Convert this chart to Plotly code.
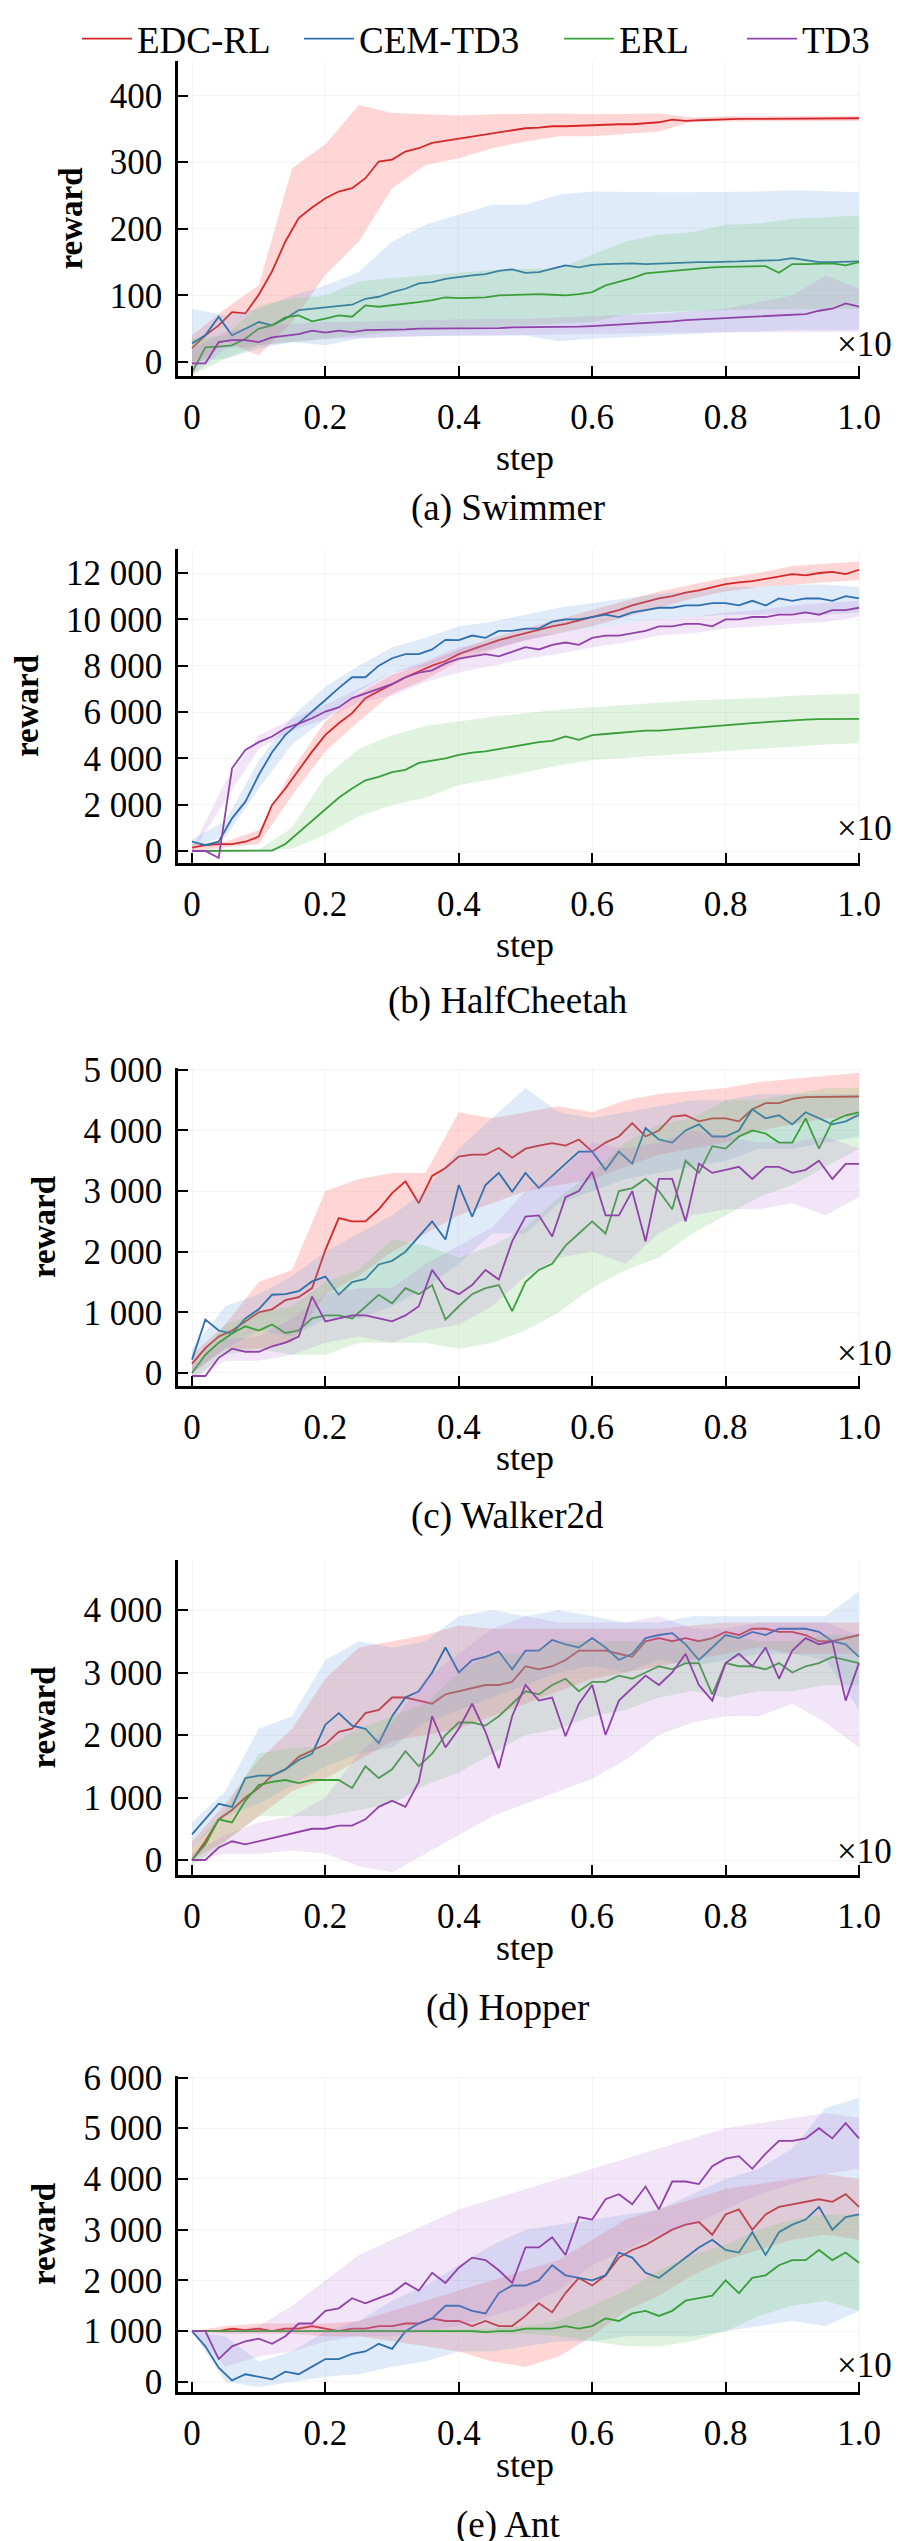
import plotly.graph_objects as go

# sampling steps (x 1e6)
STEP = [0.0, 0.02, 0.04, 0.06, 0.08, 0.1, 0.12, 0.14, 0.16, 0.18, 0.2, 0.22, 0.24, 0.26, 0.28,
        0.3, 0.32, 0.34, 0.36, 0.38, 0.4, 0.42, 0.44, 0.46, 0.48, 0.5, 0.52, 0.54, 0.56, 0.58,
        0.6, 0.62, 0.64, 0.66, 0.68, 0.7, 0.72, 0.74, 0.76, 0.78, 0.8, 0.82, 0.84, 0.86, 0.88,
        0.9, 0.92, 0.94, 0.96, 0.98, 1.0]
BAND_STEP = [0.0, 0.05, 0.1, 0.15, 0.2, 0.25, 0.3, 0.35, 0.4, 0.45, 0.5, 0.55, 0.6, 0.65, 0.7,
             0.75, 0.8, 0.85, 0.9, 0.95, 1.0]

ALGOS = ["EDC-RL", "CEM-TD3", "ERL", "TD3"]
LINE_COLORS = ["#d62728", "#2f6fad", "#3a9e3a", "#9042a8"]
FILL_COLORS = ["rgba(255,120,120,0.30)", "rgba(110,165,225,0.22)",
               "rgba(110,200,110,0.22)", "rgba(185,125,215,0.20)"]

# ---- (a) Swimmer ----
SW_EDC = [21, 40, 55, 75, 73, 101, 136, 181, 216, 232, 246, 256, 261, 276, 301, 304, 316, 321, 329, 332,
          335, 339, 342, 345, 347, 351, 352, 354, 354, 355, 355, 356, 357, 357, 359, 360, 364, 362, 363, 364,
          364, 365, 365, 365, 365, 365, 366, 366, 366, 366, 366]
SW_CEM = [28, 40, 68, 40, 50, 60, 55, 65, 78, 80, 82, 85, 86, 95, 98, 105, 110, 118, 120, 125,
          128, 130, 132, 137, 139, 134, 135, 140, 145, 142, 146, 147, 148, 148, 147, 148, 149, 149, 150, 150,
          150, 151, 152, 152, 153, 156, 153, 150, 150, 151, 151]
SW_ERL = [-16, 22, 23, 25, 35, 50, 55, 67, 70, 61, 65, 70, 68, 85, 83, 85, 88, 90, 93, 97,
          96, 96, 97, 100, 101, 102, 102, 101, 100, 102, 105, 115, 120, 126, 133, 135, 137, 139, 140, 142,
          143, 143, 144, 144, 134, 147, 147, 148, 148, 145, 150]
SW_TD3 = [-2, -2, 30, 33, 33, 30, 37, 40, 42, 47, 44, 47, 45, 48, 48, 49, 49, 50, 50, 50,
          50, 51, 51, 51, 52, 52, 52, 53, 53, 53, 54, 55, 56, 58, 59, 60, 61, 63, 64, 65,
          66, 67, 68, 69, 70, 71, 72, 77, 80, 88, 83]
SW_EDC_HI = [40, 80, 115, 291, 327, 386, 374, 372, 370, 372, 373, 373, 372, 372, 373, 367, 369, 369, 369, 369, 369]
SW_EDC_LO = [-10, 30, 10, 60, 131, 181, 261, 296, 306, 321, 331, 339, 339, 342, 346, 361, 361, 362, 362, 362, 362]
SW_CEM_HI = [80, 70, 80, 100, 115, 135, 181, 206, 221, 236, 236, 251, 256, 255, 255, 255, 255, 256, 258, 257, 255]
SW_CEM_LO = [0, 5, 20, 30, 25, 35, 38, 39, 40, 40, 40, 31, 35, 38, 40, 42, 45, 46, 48, 48, 48]
SW_ERL_HI = [35, 40, 85, 95, 100, 121, 126, 130, 135, 138, 140, 140, 161, 181, 191, 195, 206, 208, 215, 218, 220]
SW_ERL_LO = [-20, 5, 25, 30, 35, 40, 45, 48, 50, 53, 55, 58, 60, 71, 75, 77, 78, 79, 80, 80, 80]
SW_TD3_HI = [20, 45, 55, 58, 60, 61, 62, 64, 65, 65, 65, 67, 70, 71, 72, 76, 80, 90, 100, 130, 110]
SW_TD3_LO = [-20, 20, 25, 30, 35, 37, 38, 39, 40, 40, 40, 41, 42, 43, 44, 45, 45, 45, 45, 45, 45]

# ---- (b) HalfCheetah ----
HC_EDC = [150, 250, 300, 300, 400, 620, 1990, 2700, 3500, 4290, 5010, 5515, 5950, 6600, 6900, 7200, 7500,
          7750, 8000, 8200, 8500, 8700, 8900, 9100, 9250, 9400, 9550, 9700, 9800, 9950, 10080, 10250, 10400,
          10600, 10750, 10900, 11000, 11150, 11250, 11400, 11520, 11600, 11650, 11750, 11850, 11950, 11900,
          12000, 12050, 11950, 12140]
HC_CEM = [400, 250, 400, 1410, 2130, 3280, 4260, 5010, 5515, 6000, 6520, 7030, 7500, 7500, 8000, 8320, 8500,
          8500, 8700, 9115, 9100, 9300, 9200, 9500, 9500, 9600, 9600, 9900, 10000, 10000, 10100, 10200, 10100,
          10300, 10400, 10500, 10500, 10600, 10600, 10700, 10700, 10600, 10800, 10600, 10900, 10800, 10900,
          10900, 10800, 11000, 10900]
HC_ERL = [0, 0, 0, 0, 0, 10, 20, 300, 800, 1300, 1800, 2300, 2700, 3050, 3200, 3400, 3500, 3800, 3900,
          4000, 4150, 4250, 4300, 4400, 4500, 4600, 4700, 4750, 4950, 4800, 5000, 5050, 5100, 5150, 5200,
          5200, 5250, 5300, 5350, 5400, 5440, 5480, 5520, 5560, 5600, 5650, 5670, 5690, 5700, 5700, 5700]
HC_TD3 = [0, 0, -300, 3570, 4360, 4700, 4940, 5300, 5500, 5730, 6020, 6200, 6600, 6800, 7000, 7200, 7500,
          7700, 7800, 8100, 8300, 8400, 8500, 8400, 8600, 8800, 8700, 8900, 9000, 8900, 9200, 9300, 9300,
          9400, 9500, 9700, 9700, 9800, 9800, 9700, 10000, 10000, 10100, 10100, 10200, 10200, 10300, 10200,
          10400, 10400, 10500]
HC_EDC_HI = [300, 400, 900, 3500, 5600, 6800, 7600, 8100, 8700, 9200, 9600, 10000, 10400, 10800, 11200,
             11500, 11800, 12000, 12300, 12400, 12500]
HC_EDC_LO = [0, 150, 300, 2400, 4300, 5600, 6800, 7400, 8200, 8700, 9100, 9400, 9700, 10100, 10500,
             10900, 11200, 11400, 11500, 11600, 11700]
HC_CEM_HI = [500, 1300, 3900, 5800, 7100, 8000, 8800, 9200, 9700, 9900, 10200, 10500, 10700, 10900, 11100,
             11200, 11400, 11400, 11500, 11500, 11400]
HC_CEM_LO = [200, 600, 2700, 4600, 5700, 6900, 7700, 8000, 8500, 8700, 9100, 9400, 9600, 9800, 10000,
             10100, 10200, 10200, 10300, 10200, 10300]
HC_ERL_HI = [50, 50, 50, 1000, 3200, 4400, 5000, 5400, 5600, 5800, 5950, 6100, 6200, 6300, 6400, 6500,
             6550, 6600, 6700, 6750, 6800]
HC_ERL_LO = [-20, -20, -20, 100, 700, 1500, 1990, 2300, 2850, 3100, 3400, 3700, 3930, 4000, 4100, 4200,
             4300, 4400, 4500, 4600, 4650]
HC_TD3_HI = [100, 3000, 5000, 5700, 6300, 7000, 7700, 8200, 8800, 9000, 9300, 9400, 9600, 9800, 10000,
             10100, 10300, 10400, 10600, 10700, 10800]
HC_TD3_LO = [-100, 2200, 4400, 5200, 5700, 6400, 6700, 7300, 7700, 8000, 8300, 8500, 8800, 9000, 9300,
             9400, 9600, 9700, 9800, 9900, 10100]

# ---- (c) Walker2d ----
WK_EDC = [150, 410, 600, 700, 850, 1000, 1050, 1200, 1250, 1400, 2030, 2555, 2500, 2500, 2700, 2967, 3160,
          2800, 3250, 3380, 3570, 3600, 3600, 3710, 3550, 3700, 3750, 3790, 3750, 3850, 3650, 3800, 3900,
          4120, 3900, 4000, 4230, 4250, 4150, 4200, 4200, 4150, 4350, 4450, 4450, 4520, 4550, 4550, 4550,
          4550, 4560]
WK_CEM = [220, 880, 700, 650, 900, 1050, 1290, 1300, 1350, 1510, 1590, 1290, 1500, 1550, 1790, 1850, 2000,
          2250, 2500, 2200, 3100, 2580, 3100, 3300, 2990, 3300, 3050, 3250, 3450, 3650, 3650, 3350, 3650,
          3450, 4040, 3850, 3800, 4000, 4100, 3900, 3900, 4000, 4350, 4200, 4250, 4100, 4300, 4200, 4100,
          4150, 4260]
WK_ERL = [0, 300, 500, 650, 770, 700, 800, 660, 700, 900, 950, 950, 900, 1100, 1290, 1150, 1400, 1300,
          1450, 880, 1100, 1300, 1400, 1450, 1020, 1500, 1700, 1800, 2100, 2300, 2500, 2300, 3000, 3050,
          3200, 3000, 2700, 3500, 3300, 3740, 3700, 3900, 4000, 3950, 3800, 3800, 4200, 3700, 4150, 4250, 4300]
WK_TD3 = [-50, -50, 250, 400, 350, 350, 440, 500, 600, 1260, 850, 900, 950, 950, 900, 850, 950, 1100,
          1700, 1400, 1300, 1450, 1700, 1540, 2170, 2580, 2600, 2250, 2900, 3000, 3320, 2600, 2600, 3000,
          2170, 3200, 3200, 2500, 3450, 3300, 3350, 3400, 3200, 3400, 3400, 3300, 3350, 3500, 3200, 3450, 3450]
WK_EDC_HI = [300, 800, 1500, 1700, 3000, 3200, 3300, 3300, 4300, 4200, 4300, 4400, 4300, 4500, 4600,
             4650, 4700, 4800, 4850, 4900, 4950]
WK_EDC_LO = [0, 400, 400, 500, 1300, 1600, 2000, 2300, 2600, 2800, 3000, 3100, 3200, 3400, 3600, 3700,
             3800, 4000, 4100, 4200, 4200]
WK_CEM_HI = [400, 1100, 1300, 1600, 2000, 2300, 2600, 3000, 3700, 4200, 4700, 4300, 4200, 4300, 4400,
             4500, 4500, 4600, 4600, 4600, 4600]
WK_CEM_LO = [0, 400, 700, 600, 900, 900, 1100, 1400, 1800, 2300, 2300, 2800, 3000, 3200, 3300, 3400,
             3500, 3700, 3700, 3800, 3900]
WK_ERL_HI = [100, 800, 1000, 1100, 1500, 1700, 2200, 2100, 1900, 2100, 2400, 2900, 3300, 3800, 4100,
             4200, 4500, 4500, 4600, 4700, 4700]
WK_ERL_LO = [-100, 300, 400, 300, 300, 500, 500, 500, 400, 500, 700, 1000, 1400, 1700, 1900, 2300, 2600,
             2900, 3100, 3400, 3700]
WK_TD3_HI = [100, 550, 600, 900, 1300, 1400, 1400, 1800, 2100, 2400, 3000, 3300, 3800, 3700, 3800, 4000,
             3900, 3800, 3800, 3900, 3700]
WK_TD3_LO = [-100, 200, 200, 300, 500, 600, 500, 700, 800, 1100, 1600, 1900, 2000, 1800, 2300, 2600,
             2700, 2700, 2800, 2600, 2900]

# ---- (d) Hopper ----
HP_EDC = [0, 300, 650, 800, 1000, 1150, 1350, 1450, 1650, 1750, 1850, 2050, 2100, 2350, 2400, 2600, 2600,
          2550, 2500, 2650, 2700, 2750, 2800, 2800, 2850, 3100, 3050, 3100, 3200, 3350, 3350, 3350, 3300,
          3250, 3500, 3550, 3500, 3550, 3500, 3550, 3650, 3600, 3700, 3700, 3650, 3650, 3600, 3500, 3500,
          3550, 3600]
HP_CEM = [410, 650, 900, 850, 1310, 1350, 1350, 1450, 1600, 1700, 2165, 2350, 2150, 2100, 1870, 2300, 2600,
          2700, 3000, 3400, 3000, 3200, 3250, 3335, 3050, 3350, 3350, 3520, 3450, 3400, 3550, 3400, 3200,
          3300, 3550, 3600, 3630, 3450, 3200, 3400, 3600, 3550, 3650, 3600, 3700, 3700, 3700, 3650, 3500,
          3450, 3250]
HP_ERL = [0, 250, 650, 600, 950, 1200, 1250, 1280, 1230, 1280, 1280, 1280, 1150, 1500, 1310, 1450, 1740,
          1500, 1700, 2000, 2200, 2200, 2150, 2300, 2500, 2700, 2650, 2800, 2900, 2700, 2850, 2850, 2950,
          2900, 3000, 3100, 3050, 3150, 3150, 2650, 3150, 3100, 3100, 3050, 3150, 3000, 3100, 3150, 3250,
          3200, 3150]
HP_TD3 = [0, 0, 200, 300, 250, 300, 350, 400, 450, 500, 500, 550, 550, 650, 850, 950, 850, 1250, 2300,
          1800, 2100, 2500, 2050, 1470, 2300, 2800, 2550, 2600, 1980, 2500, 2800, 2000, 2550, 2750, 2950,
          2800, 3000, 3300, 2800, 2550, 3150, 3300, 3100, 3400, 2900, 3350, 3550, 3450, 3500, 2550, 3150]
HP_EDC_HI = [300, 900, 1600, 2100, 2900, 3400, 3500, 3600, 3750, 3700, 3700, 3700, 3700, 3700, 3700,
             3750, 3800, 3800, 3800, 3800, 3800]
HP_EDC_LO = [0, 300, 700, 1100, 1300, 1600, 1900, 2000, 2100, 2300, 2500, 2700, 2900, 3000, 3100, 3200,
             3300, 3400, 3300, 3300, 3300]
HP_CEM_HI = [600, 1100, 2100, 2300, 3200, 3500, 3400, 3500, 3900, 4000, 3900, 4000, 3900, 3800, 3800,
             3900, 3900, 3900, 3900, 3900, 4300]
HP_CEM_LO = [200, 700, 900, 1200, 1500, 1700, 1800, 2200, 2400, 2600, 2800, 3000, 3100, 3000, 3200, 3100,
             3200, 3300, 3300, 3200, 2400]
HP_ERL_HI = [200, 800, 1700, 1800, 1800, 2100, 2300, 2500, 3000, 3300, 3300, 3500, 3500, 3500, 3500,
             3500, 3600, 3500, 3500, 3600, 3600]
HP_ERL_LO = [-100, 300, 700, 700, 700, 800, 900, 1200, 1400, 1700, 2000, 2100, 2300, 2400, 2600, 2700,
             2600, 2700, 2700, 2800, 2800]
HP_TD3_HI = [100, 400, 600, 700, 1000, 1700, 2200, 2900, 3300, 3700, 3900, 3800, 3800, 3800, 3900, 3700,
             3700, 3800, 3800, 3800, 3600]
HP_TD3_LO = [0, 100, 100, 150, 100, -100, -200, 100, 400, 700, 900, 1100, 1300, 1600, 2000, 2200, 2300,
             2300, 2500, 2200, 1800]

# ---- (e) Ant ----
AN_EDC = [1000, 1000, 1000, 1050, 1020, 1050, 1000, 1050, 1050, 1100, 1050, 1000, 1050, 1050, 1100, 1100,
          1150, 1150, 1250, 1200, 1200, 1100, 1200, 1100, 1100, 1300, 1550, 1370, 1750, 2050, 1900, 2100,
          2450, 2600, 2700, 2850, 3000, 3100, 3150, 2900, 3300, 3400, 3000, 3300, 3450, 3500, 3550, 3600,
          3550, 3700, 3450]
AN_CEM = [1000, 700, 280, 30, 150, 100, 50, 200, 150, 300, 450, 450, 550, 600, 750, 650, 1000, 1150, 1250,
          1500, 1500, 1400, 1350, 1750, 1900, 1900, 2000, 2300, 2100, 2050, 2000, 2100, 2550, 2450, 2150,
          2050, 2250, 2450, 2650, 2800, 2600, 2550, 2950, 2500, 2950, 3100, 3200, 3450, 3000, 3250, 3300]
AN_ERL = [1000, 1000, 1000, 1000, 1000, 1000, 1000, 1000, 1000, 1000, 1000, 1000, 1000, 1000, 1000, 1000,
          1000, 1000, 1000, 1000, 1000, 1000, 980, 1000, 1000, 1050, 1050, 1050, 1100, 1050, 1100, 1250,
          1200, 1350, 1400, 1300, 1400, 1600, 1650, 1700, 2000, 1750, 2050, 2100, 2300, 2400, 2400, 2600,
          2400, 2550, 2350]
AN_TD3 = [1000, 1000, 450, 700, 800, 850, 750, 900, 1150, 1150, 1400, 1450, 1650, 1550, 1650, 1750, 1950,
          1800, 2150, 1950, 2250, 2450, 2400, 2200, 1950, 2650, 2650, 2850, 2500, 3250, 3200, 3600, 3700,
          3500, 3850, 3400, 3950, 3950, 3900, 4250, 4400, 4450, 4200, 4500, 4750, 4750, 4800, 5000, 4800,
          5100, 4800]
AN_EDC_HI = [1000, 1100, 1150, 1150, 1150, 1200, 1400, 1600, 1800, 2000, 2200, 2400, 2800, 3200, 3400,
             3600, 3800, 3900, 4000, 4100, 4000]
AN_EDC_LO = [1000, 950, 950, 950, 900, 900, 800, 700, 600, 400, 300, 500, 900, 1400, 1700, 2100, 2400,
             2600, 2800, 2900, 2800]
AN_CEM_HI = [1000, 900, 400, 600, 1000, 1200, 1600, 1900, 2300, 2700, 3000, 3100, 3200, 3300, 3400, 3700,
             4000, 4200, 4600, 5400, 5600]
AN_CEM_LO = [1000, 0, -100, 0, 100, 150, 300, 400, 600, 600, 700, 800, 800, 900, 900, 900, 1000, 1100,
             1200, 1100, 1400]
AN_ERL_HI = [1000, 1020, 1020, 1020, 1020, 1020, 1020, 1020, 1030, 1050, 1100, 1200, 1500, 1800, 2200,
             2500, 2700, 3000, 3200, 3300, 3300]
AN_ERL_LO = [1000, 980, 980, 980, 980, 980, 980, 980, 970, 950, 950, 900, 800, 700, 700, 800, 1000, 1300,
             1500, 1600, 1400]
AN_TD3_HI = [1000, 1000, 1100, 1500, 2000, 2500, 2800, 3100, 3400, 3600, 3800, 4000, 4200, 4400, 4600,
             4800, 5000, 5100, 5200, 5300, 5200]
AN_TD3_LO = [1000, 300, 500, 600, 800, 900, 900, 1000, 1100, 1300, 1500, 1800, 2300, 2600, 2900, 3100,
             3400, 3700, 3900, 4100, 4200]

PANELS = [
    dict(name="(a) Swimmer", ticks=[0, 100, 200, 300, 400],
         mean=[SW_EDC, SW_CEM, SW_ERL, SW_TD3],
         hi=[SW_EDC_HI, SW_CEM_HI, SW_ERL_HI, SW_TD3_HI],
         lo=[SW_EDC_LO, SW_CEM_LO, SW_ERL_LO, SW_TD3_LO]),
    dict(name="(b) HalfCheetah", ticks=[0, 2000, 4000, 6000, 8000, 10000, 12000],
         mean=[HC_EDC, HC_CEM, HC_ERL, HC_TD3],
         hi=[HC_EDC_HI, HC_CEM_HI, HC_ERL_HI, HC_TD3_HI],
         lo=[HC_EDC_LO, HC_CEM_LO, HC_ERL_LO, HC_TD3_LO]),
    dict(name="(c) Walker2d", ticks=[0, 1000, 2000, 3000, 4000, 5000],
         mean=[WK_EDC, WK_CEM, WK_ERL, WK_TD3],
         hi=[WK_EDC_HI, WK_CEM_HI, WK_ERL_HI, WK_TD3_HI],
         lo=[WK_EDC_LO, WK_CEM_LO, WK_ERL_LO, WK_TD3_LO]),
    dict(name="(d) Hopper", ticks=[0, 1000, 2000, 3000, 4000],
         mean=[HP_EDC, HP_CEM, HP_ERL, HP_TD3],
         hi=[HP_EDC_HI, HP_CEM_HI, HP_ERL_HI, HP_TD3_HI],
         lo=[HP_EDC_LO, HP_CEM_LO, HP_ERL_LO, HP_TD3_LO]),
    dict(name="(e) Ant", ticks=[0, 1000, 2000, 3000, 4000, 5000, 6000],
         mean=[AN_EDC, AN_CEM, AN_ERL, AN_TD3],
         hi=[AN_EDC_HI, AN_CEM_HI, AN_ERL_HI, AN_TD3_HI],
         lo=[AN_EDC_LO, AN_CEM_LO, AN_ERL_LO, AN_TD3_LO]),
]

X_TICKS = [0, 0.2, 0.4, 0.6, 0.8, 1.0]
X_TICKTEXT = ["0", "0.2", "0.4", "0.6", "0.8", "1.0"]

# layout geometry (pixels in a 901 x 2541 page)
W, H = 901, 2541
AX_TOP = [53, 541, 1060, 1552, 2068]
AX_BOT = [368, 855, 1378, 1867, 2384]
Y_RANGES = [[-21, 452], [-518, 13036], [-215, 5030], [-240, 4800], [-200, 6030]]
CAPTION_Y = [500, 993, 1508, 2000, 2517]
STEP_Y = [450, 937, 1450, 1940, 2457]
SCALE_Y = [337, 820, 1345, 1843, 2357]
LEGEND_X = [69, 291, 551, 734]

FONT = 'Liberation Serif, "Times New Roman", serif'

fig = go.Figure()
layout = {}
annotations = []

for p, panel in enumerate(PANELS):
    n = "" if p == 0 else str(p + 1)
    xa, ya = "x" + n, "y" + n
    for i, algo in enumerate(ALGOS):
        # shaded band
        fig.add_trace(go.Scatter(
            x=BAND_STEP + BAND_STEP[::-1],
            y=panel["hi"][i] + panel["lo"][i][::-1],
            fill="toself", fillcolor=FILL_COLORS[i], line=dict(width=0),
            mode="lines", hoverinfo="skip", showlegend=False,
            xaxis=xa, yaxis=ya))
        # mean curve
        fig.add_trace(go.Scatter(
            x=STEP, y=panel["mean"][i], mode="lines", name=algo,
            line=dict(color=LINE_COLORS[i], width=1.8),
            showlegend=(p == 0), legend="legend" if i == 0 else "legend" + str(i + 1),
            xaxis=xa, yaxis=ya))

    layout["xaxis" + n] = dict(
        domain=[170 / W, 852 / W], range=[-0.021, 1.0015], anchor=ya,
        tickvals=X_TICKS, ticktext=X_TICKTEXT, ticks="inside", ticklen=10, tickwidth=2,
        tickcolor="black", showline=True, linecolor="black", linewidth=2.5,
        showgrid=True, gridcolor="rgba(0,0,0,0.04)", zeroline=False,
        tickfont=dict(family=FONT, size=35, color="black"), ticklabelstandoff=8)
    layout["yaxis" + n] = dict(
        domain=[1 - AX_BOT[p] / H, 1 - AX_TOP[p] / H], range=Y_RANGES[p], anchor=xa,
        tickvals=panel["ticks"], ticktext=[f"{v:,}".replace(",", " ") for v in panel["ticks"]],
        ticks="inside", ticklen=10, tickwidth=2, tickcolor="black",
        showline=True, linecolor="black", linewidth=2.5,
        showgrid=True, gridcolor="rgba(0,0,0,0.04)", zeroline=False,
        tickfont=dict(family=FONT, size=35, color="black"), ticklabelstandoff=6,
        title=dict(text="<b>reward</b>", font=dict(family=FONT, size=33, color="black"), standoff=18))

    annotations.append(dict(
        text="step", x=517 / W, y=1 - STEP_Y[p] / H, xref="paper", yref="paper",
        xanchor="center", yanchor="middle", showarrow=False,
        font=dict(family=FONT, size=36, color="black")))
    annotations.append(dict(
        text=panel["name"], x=500 / W, y=1 - CAPTION_Y[p] / H, xref="paper", yref="paper",
        xanchor="center", yanchor="middle", showarrow=False,
        font=dict(family=FONT, size=37, color="black")))
    annotations.append(dict(
        text="×10⁶", x=898 / W, y=1 - SCALE_Y[p] / H, xref="paper", yref="paper",
        xanchor="right", yanchor="middle", showarrow=False,
        font=dict(family=FONT, size=35, color="black")))

legend_style = dict(orientation="h", y=1.0, yanchor="top", xanchor="left",
                    font=dict(family=FONT, size=37, color="black"),
                    itemwidth=50, bgcolor="rgba(0,0,0,0)")
for i in range(len(ALGOS)):
    key = "legend" if i == 0 else "legend" + str(i + 1)
    layout[key] = dict(legend_style, x=LEGEND_X[i] / W)

fig.update_layout(
    **layout,
    annotations=annotations,
    width=W, height=H,
    margin=dict(l=0, r=0, t=0, b=0, autoexpand=False),
    plot_bgcolor="white", paper_bgcolor="white",
    font=dict(family=FONT, color="black"),
)

fig.write_html("out.html")
